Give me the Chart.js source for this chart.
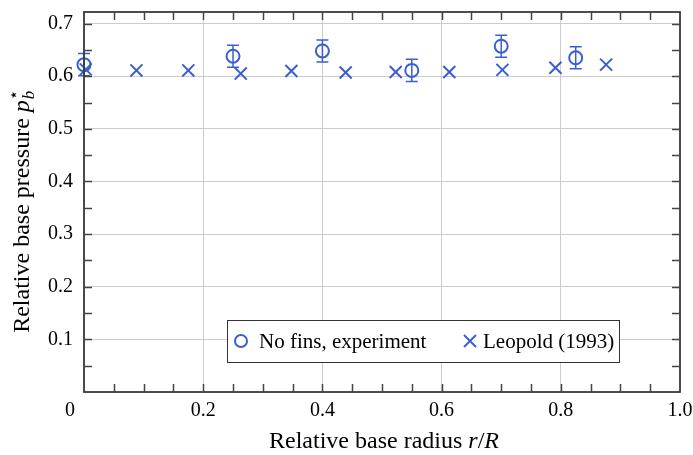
<!DOCTYPE html>
<html>
<head>
<meta charset="utf-8">
<script src="https://cdn.jsdelivr.net/npm/chart.js@4/dist/chart.umd.min.js"></script>
<style>
html,body{margin:0;padding:0;background:#fff;}
canvas{display:block;}
</style>
</head>
<body>
<canvas id="c" width="693" height="455"></canvas>
<script>
// ---- data ----
const xExp = [0.0, 0.25, 0.40, 0.55, 0.70, 0.825];
const yExp = [0.622, 0.638, 0.648, 0.611, 0.657, 0.635];
const errExp = [0.021, 0.021, 0.021, 0.021, 0.021, 0.021];
const xLeo = [0.003, 0.088, 0.175, 0.263, 0.348, 0.439, 0.523, 0.613, 0.702, 0.791, 0.876];
const yLeo = [0.613, 0.611, 0.611, 0.605, 0.610, 0.607, 0.608, 0.608, 0.612, 0.616, 0.622];
const seriesLabels = ['No fins, experiment', 'Leopold (1993)'];
const xTitle = ['Relative base radius ', 'r', '/', 'R'];
const yTitle = ['Relative base pressure ', 'p', 'b', '\u22C6'];
const cornerLabel = '0';

const BLUE = '#3a60cf';
const SERIF = "'Liberation Serif', 'Times New Roman', 'DejaVu Serif', serif";
const TICK_PX = 20;
const TITLE_PX = 24;
const LEGEND_PX = 21;

const custom = {
  id: 'custom',
  beforeDraw(chart) {
    const c = chart.ctx;
    c.save(); c.fillStyle = '#fff'; c.fillRect(0, 0, chart.width, chart.height); c.restore();
  },
  beforeDatasetsDraw(chart) {
    const c = chart.ctx, xs = chart.scales.x, ys = chart.scales.y;
    c.save();
    c.strokeStyle = BLUE; c.lineWidth = 1.5;
    for (let i = 0; i < xExp.length; i++) {
      const px = xs.getPixelForValue(xExp[i]);
      const t = ys.getPixelForValue(yExp[i] + errExp[i]);
      const b = ys.getPixelForValue(yExp[i] - errExp[i]);
      c.beginPath();
      c.moveTo(px, t); c.lineTo(px, b);
      c.moveTo(px - 6, t); c.lineTo(px + 6, t);
      c.moveTo(px - 6, b); c.lineTo(px + 6, b);
      c.stroke();
    }
    c.restore();
  },
  afterDraw(chart) {
    const c = chart.ctx, a = chart.chartArea, xs = chart.scales.x, ys = chart.scales.y;
    c.save();
    // frame
    c.strokeStyle = '#3a3a3a'; c.lineWidth = 1.8;
    c.strokeRect(a.left, a.top, a.right - a.left, a.bottom - a.top);
    // inward ticks every 0.05
    c.lineWidth = 1.5; c.strokeStyle = '#444'; c.beginPath();
    for (let i = 1; i < 20; i++) {
      const px = Math.round(xs.getPixelForValue(i * 0.05)) + 0.5;
      c.moveTo(px, a.bottom); c.lineTo(px, a.bottom - 8);
      c.moveTo(px, a.top); c.lineTo(px, a.top + 8);
    }
    for (let i = 1; i <= 14; i++) {
      const py = Math.round(ys.getPixelForValue(i * 0.05)) + 0.5;
      c.moveTo(a.left, py); c.lineTo(a.left + 8, py);
      c.moveTo(a.right, py); c.lineTo(a.right - 8, py);
    }
    c.stroke();
    // corner label
    c.fillStyle = '#000';
    c.font = TICK_PX + 'px ' + SERIF;
    c.textAlign = 'center'; c.textBaseline = 'middle';
    c.fillText(cornerLabel, a.left - 14, a.bottom + 19);
    // x title
    const norm = TITLE_PX + 'px ' + SERIF, ital = 'italic ' + TITLE_PX + 'px ' + SERIF;
    const xf = [norm, ital, norm, ital];
    let w = 0;
    xTitle.forEach((s, i) => { c.font = xf[i]; w += c.measureText(s).width; });
    let x0 = (a.left + a.right) / 2 + 2 - w / 2;
    c.textAlign = 'left'; c.textBaseline = 'alphabetic';
    xTitle.forEach((s, i) => { c.font = xf[i]; c.fillText(s, x0, 448); x0 += c.measureText(s).width; });
    // y title (rotated)
    c.save();
    c.translate(29, (a.top + a.bottom) / 2 + 9);
    c.rotate(-Math.PI / 2);
    const small = 'italic 17px ' + SERIF;
    c.font = norm; const w0 = c.measureText(yTitle[0]).width;
    c.font = ital; const w1 = c.measureText(yTitle[1]).width;
    c.font = small; const w2 = Math.max(c.measureText(yTitle[2]).width, 10);
    let yx = -(w0 + w1 + w2 + 1) / 2;
    c.font = norm; c.fillText(yTitle[0], yx, 0); yx += w0;
    c.font = ital; c.fillText(yTitle[1], yx, 0); yx += w1 + 1;
    c.font = small; c.fillText(yTitle[2], yx, 5);
    c.font = "17px 'DejaVu Sans', sans-serif"; c.fillText(yTitle[3], yx - 1, -10);
    c.restore();
    // legend box
    const L = a.left + 143, T = a.top + 308, W = 392, H = 42;
    c.fillStyle = '#fff'; c.fillRect(L, T, W, H);
    c.strokeStyle = '#333'; c.lineWidth = 1; c.strokeRect(L + 0.5, T + 0.5, W, H);
    const cy = T + 21;
    c.strokeStyle = BLUE; c.lineWidth = 2;
    c.beginPath(); c.arc(L + 14, cy, 6, 0, Math.PI * 2); c.stroke();
    const xc = L + 243;
    c.beginPath();
    c.moveTo(xc - 6, cy - 6); c.lineTo(xc + 6, cy + 6);
    c.moveTo(xc - 6, cy + 6); c.lineTo(xc + 6, cy - 6);
    c.stroke();
    c.fillStyle = '#000'; c.font = LEGEND_PX + 'px ' + SERIF;
    c.textAlign = 'left'; c.textBaseline = 'middle';
    c.fillText(seriesLabels[0], L + 32, cy + 1);
    c.fillText(seriesLabels[1], L + 256, cy + 1);
    c.restore();
  }
};

function noPad(s) { s.paddingTop = 0; s.paddingBottom = 0; s.paddingLeft = 0; s.paddingRight = 0; }

new Chart(document.getElementById('c'), {
  type: 'scatter',
  data: {
    datasets: [
      {
        label: seriesLabels[0],
        data: xExp.map((x, i) => ({ x: x, y: yExp[i] })),
        pointStyle: 'circle', pointRadius: 6.5, pointBorderWidth: 2,
        borderColor: BLUE, backgroundColor: 'rgba(0,0,0,0)', clip: false
      },
      {
        label: seriesLabels[1],
        data: xLeo.map((x, i) => ({ x: x, y: yLeo[i] })),
        pointStyle: 'crossRot', pointRadius: 8.5, pointBorderWidth: 2,
        borderColor: BLUE, backgroundColor: BLUE, clip: false
      }
    ]
  },
  options: {
    responsive: false, animation: false, devicePixelRatio: 1,
    layout: { padding: { left: 0, top: 12, right: 13, bottom: 0 } },
    plugins: { legend: { display: false }, tooltip: { enabled: false } },
    scales: {
      x: {
        type: 'linear', min: 0, max: 1,
        ticks: { stepSize: 0.2, includeBounds: false, autoSkip: false, maxRotation: 0,
          callback: v => (Math.abs(v) < 1e-9 ? '' : v.toFixed(1)),
          font: { family: SERIF, size: TICK_PX }, color: '#000', padding: 7 },
        grid: { color: '#cccccc', lineWidth: 1, drawTicks: false },
        border: { display: false },
        afterFit: s => { s.height = 63; noPad(s); }
      },
      y: {
        type: 'linear', min: 0, max: 0.722,
        ticks: { stepSize: 0.1, includeBounds: false,
          callback: v => (Math.abs(v) < 1e-9 ? '' : v.toFixed(1)),
          font: { family: SERIF, size: TICK_PX }, color: '#000', padding: 11 },
        grid: { color: '#cccccc', lineWidth: 1, drawTicks: false },
        border: { display: false },
        afterFit: s => { s.width = 84; noPad(s); }
      }
    }
  },
  plugins: [custom]
});
</script>
</body>
</html>
